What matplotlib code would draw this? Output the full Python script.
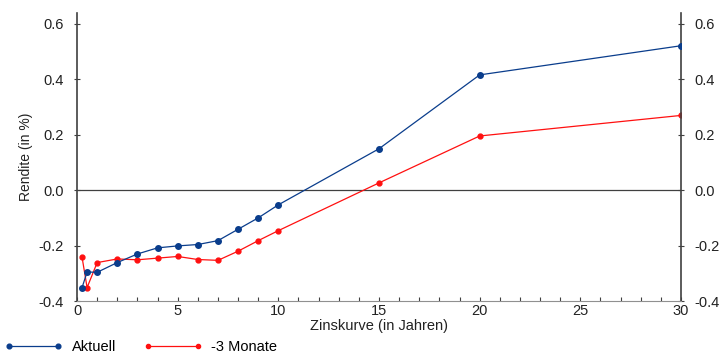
import matplotlib
matplotlib.use('Agg')
import matplotlib.pyplot as plt
from matplotlib.ticker import MultipleLocator, FormatStrFormatter

plt.rcParams['font.family'] = ['Liberation Sans', 'DejaVu Sans']
plt.rcParams['axes.unicode_minus'] = False

# Laufzeiten in Jahren
laufzeit = [0.25, 0.5, 1, 2, 3, 4, 5, 6, 7, 8, 9, 10, 15, 20, 30]
# Renditen in %
aktuell = [-0.350, -0.294, -0.295, -0.260, -0.229, -0.207, -0.200, -0.195,
           -0.181, -0.140, -0.099, -0.052, 0.150, 0.416, 0.521]
vor_3_monaten = [-0.241, -0.350, -0.260, -0.247, -0.250, -0.244, -0.238, -0.249,
                 -0.252, -0.219, -0.181, -0.145, 0.027, 0.196, 0.270]

blue = '#0a3d8c'
red = '#ff1010'
axis_col = '#404040'

fig = plt.figure(figsize=(7.24, 3.58), dpi=100)
ax = fig.add_axes([0.1064, 0.158, 0.8342, 0.8065])

ax.axhline(0, color=axis_col, lw=0.9, zorder=1)
ax.plot(laufzeit, aktuell, color=blue, lw=0.9, marker='o', markersize=4,
        label='Aktuell', zorder=3)
ax.plot(laufzeit, vor_3_monaten, color=red, lw=0.9, marker='o', markersize=3.5,
        label='-3 Monate', zorder=2)

ax.set_xlim(0, 30)
ax.set_ylim(-0.4, 0.64)
ax.xaxis.set_major_locator(MultipleLocator(5))
ax.xaxis.set_minor_locator(MultipleLocator(1))
ax.yaxis.set_major_locator(MultipleLocator(0.2))
ax.yaxis.set_major_formatter(FormatStrFormatter('%.1f'))

ax.spines['top'].set_visible(False)
for side in ['left', 'right']:
    ax.spines[side].set_color(axis_col)
    ax.spines[side].set_linewidth(1.2)
ax.spines['bottom'].set_color('#909090')
ax.spines['bottom'].set_linewidth(0.8)

ax.tick_params(axis='y', which='both', direction='inout', length=5, width=0.8,
               color=axis_col, labelsize=10.5, labelcolor='#222222',
               left=True, right=True, labelleft=True, labelright=True, pad=7)
ax.tick_params(axis='x', which='both', direction='in', length=3, width=0.8,
               color=axis_col, labelsize=10.5, labelcolor='#222222', pad=2)

ax.set_xlabel('Zinskurve (in Jahren)', fontsize=10.5, color='#222222', labelpad=0.5)
ax.set_ylabel('Rendite (in %)', fontsize=10, color='#222222', labelpad=4)

fig.legend(loc='lower left', bbox_to_anchor=(-0.012, -0.025), ncol=2, frameon=False,
           numpoints=2, fontsize=10.5, handlelength=4.0, handletextpad=0.6,
           columnspacing=1.9, markerscale=0.85)

fig.savefig('out.png', dpi=100)
